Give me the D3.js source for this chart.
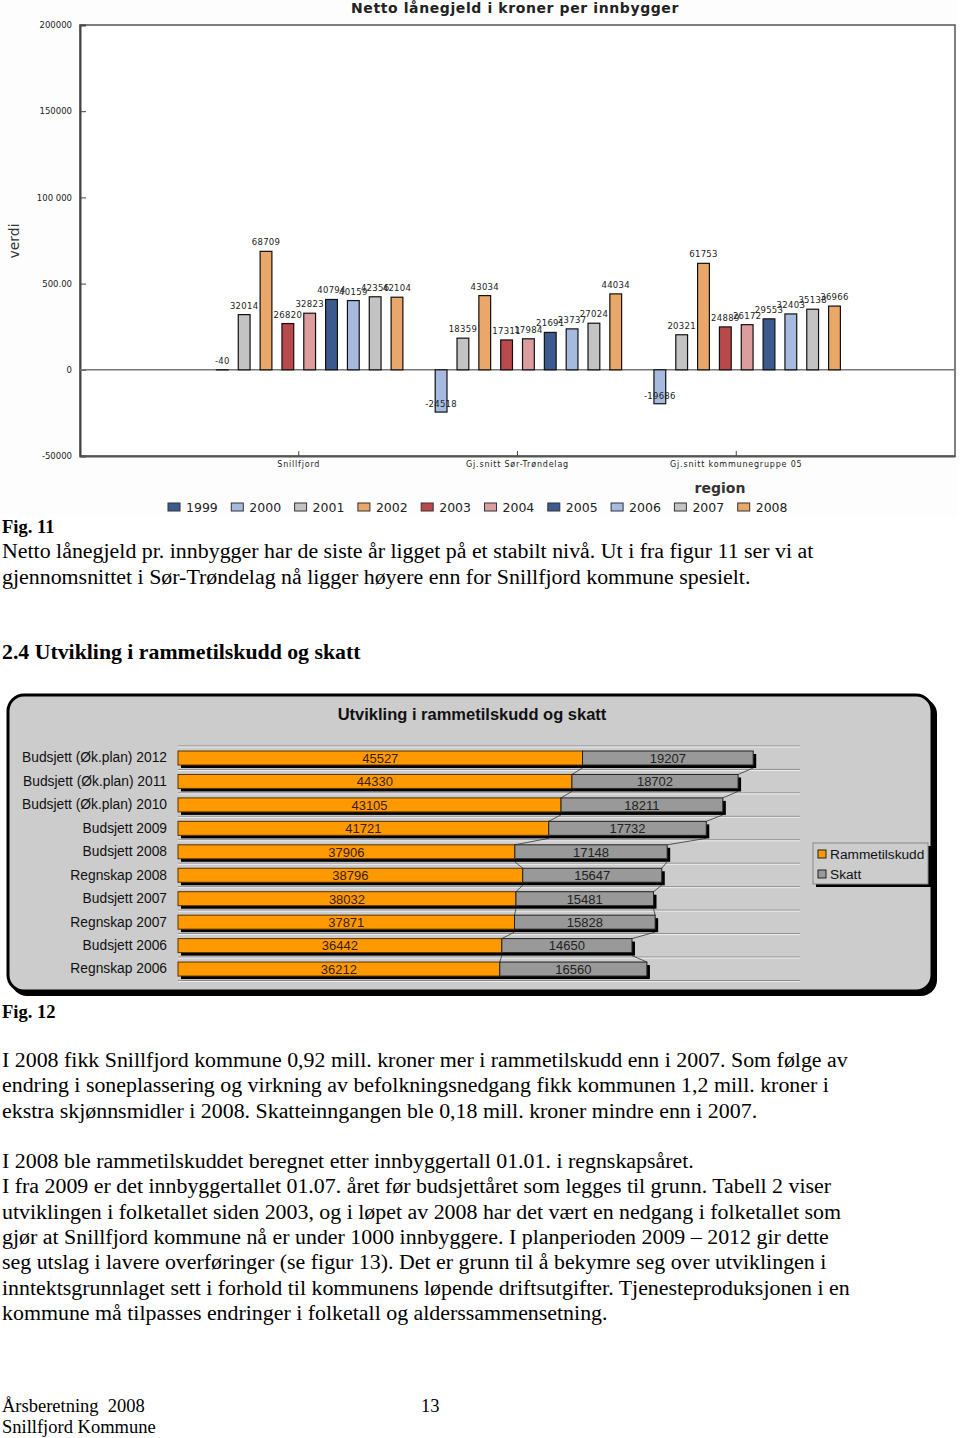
<!DOCTYPE html>
<html><head><meta charset="utf-8">
<script src="https://cdn.jsdelivr.net/npm/d3@7"></script>
<style>
body{margin:0;background:#fff;}
svg{display:block;}
text{white-space:pre;}
</style></head>
<body>
<script>
// ---------- Figure 11 data ----------
const regions = ["Snillfjord", "Gj.snitt Sør-Trøndelag", "Gj.snitt kommunegruppe 05"];
const years = ["1999","2000","2001","2002","2003","2004","2005","2006","2007","2008"];
const snillfjord    = [null, -40, 32014, 68709, 26820, 32823, 40794, 40159, 42356, 42104];
const sorTrondelag  = [null, -24518, 18359, 43034, 17311, 17984, 21691, 23737, 27024, 44034];
const kommunegruppe = [null, -19686, 20321, 61753, 24889, 26172, 29553, 32403, 35138, 36966];
const yearColors = ["#3d5a8e","#a6badf","#c3c3c3","#e9a86a","#b94a4c","#dc9d9e","#3d5a8e","#a6badf","#c3c3c3","#e9a86a"];
const yTicks = [-50000, 0, 50000, 100000, 150000, 200000];
const yTickLabels = ["-50000", "0", "500.00", "100 000", "150000", "200000"];

// ---------- Figure 12 data ----------
const budgetCategories = ["Budsjett (Øk.plan) 2012","Budsjett (Øk.plan) 2011","Budsjett (Øk.plan) 2010","Budsjett 2009","Budsjett 2008","Regnskap 2008","Budsjett 2007","Regnskap 2007","Budsjett 2006","Regnskap 2006"];
const rammetilskudd = [45527, 44330, 43105, 41721, 37906, 38796, 38032, 37871, 36442, 36212];
const skatt = [19207, 18702, 18211, 17732, 17148, 15647, 15481, 15828, 14650, 16560];
const seriesNames = ["Rammetilskudd", "Skatt"];

// ---------- Page text ----------
const para1 = ["Netto lånegjeld pr. innbygger har de siste år ligget på et stabilt nivå. Ut i fra figur 11 ser vi at",
  "gjennomsnittet i Sør-Trøndelag nå ligger høyere enn for Snillfjord kommune spesielt."];
const para2 = ["I 2008 fikk Snillfjord kommune 0,92 mill. kroner mer i rammetilskudd enn i 2007. Som følge av",
  "endring i soneplassering og virkning av befolkningsnedgang fikk kommunen 1,2 mill. kroner i",
  "ekstra skjønnsmidler i 2008. Skatteinngangen ble 0,18 mill. kroner mindre enn i 2007."];
const para3 = ["I 2008 ble rammetilskuddet beregnet etter innbyggertall 01.01. i regnskapsåret.",
  "I fra 2009 er det innbyggertallet 01.07. året før budsjettåret som legges til grunn. Tabell 2 viser",
  "utviklingen i folketallet siden 2003, og i løpet av 2008 har det vært en nedgang i folketallet som",
  "gjør at Snillfjord kommune nå er under 1000 innbyggere. I planperioden 2009 – 2012 gir dette",
  "seg utslag i lavere overføringer (se figur 13). Det er grunn til å bekymre seg over utviklingen i",
  "inntektsgrunnlaget sett i forhold til kommunens løpende driftsutgifter. Tjenesteproduksjonen i en",
  "kommune må tilpasses endringer i folketall og alderssammensetning."];

const svg = d3.select("body").append("svg").attr("width", 960).attr("height", 1438)
  .style("background", "#fff");

// =============== FIGURE 11 ===============
const f1 = svg.append("g");
const pf = "'DejaVu Sans', Verdana, sans-serif";
const L = 80, R = 955, T = 25, B = 456;
const y1 = d3.scaleLinear().domain([-50000, 200000]).range([B, T]);
const x1 = d3.scaleBand().domain(regions).range([L, R]).paddingInner(0).paddingOuter(0.5);
const xi = d3.scaleBand().domain(years).range([0, x1.bandwidth()]).paddingInner(0.46).paddingOuter(0.24);

f1.append("rect").attr("x", 0).attr("y", 0).attr("width", 958).attr("height", 516).attr("fill", "#fdfdfd");

f1.append("text").attr("x", 515).attr("y", 13).attr("text-anchor", "middle")
  .attr("font-family", pf).attr("font-size", 14).attr("font-weight", "bold").attr("letter-spacing", 0.6).attr("fill", "#222")
  .text("Netto lånegjeld i kroner per innbygger");

// frame
f1.append("rect").attr("x", L).attr("y", T).attr("width", R - L).attr("height", B - T)
  .attr("fill", "#fff").attr("stroke", "#555").attr("stroke-width", 1.5);

// y axis
const yAxis = d3.axisLeft(y1).tickValues(yTicks).tickSize(-6)
  .tickFormat((d) => yTickLabels[yTicks.indexOf(d)]);
const ya = f1.append("g").attr("transform", `translate(${L},0)`).call(yAxis);
ya.select(".domain").attr("stroke", "#444").attr("stroke-width", 2);
ya.selectAll(".tick line").attr("stroke", "#444");
ya.selectAll(".tick text").attr("x", -8).attr("font-family", pf).attr("font-size", 8.5).attr("fill", "#222");

// zero line
f1.append("line").attr("x1", L).attr("x2", R).attr("y1", y1(0)).attr("y2", y1(0))
  .attr("stroke", "#777").attr("stroke-width", 1.5);

// x axis
const xAxis = d3.axisBottom(x1).tickSize(-5).tickSizeOuter(0);
const xa = f1.append("g").attr("transform", `translate(0,${B})`).call(xAxis);
xa.select(".domain").attr("stroke", "#555").attr("stroke-width", 2);
xa.selectAll(".tick line").attr("stroke", "#444");
xa.selectAll(".tick text").attr("y", 5).attr("font-family", pf).attr("font-size", 8)
  .attr("letter-spacing", 0.8).attr("fill", "#222");

const regionValues = [snillfjord, sorTrondelag, kommunegruppe];
const barData = [];
regions.forEach((r, ri) => years.forEach((yr, yi) => {
  const v = regionValues[ri][yi];
  if (v !== null) barData.push({ r, yr, yi, v });
}));
const bars = f1.append("g");
bars.selectAll("rect").data(barData).join("rect")
  .attr("x", d => x1(d.r) + xi(d.yr))
  .attr("width", xi.bandwidth())
  .attr("y", d => y1(Math.max(0, d.v)))
  .attr("height", d => Math.abs(y1(d.v) - y1(0)))
  .attr("fill", d => yearColors[d.yi]).attr("stroke", "#111").attr("stroke-width", 1.2);
bars.selectAll("text").data(barData).join("text")
  .attr("x", d => x1(d.r) + xi(d.yr) + xi.bandwidth() / 2)
  .attr("y", d => (d.v < 0 && (y1(d.v) - y1(0)) > 15) ? y1(d.v) - 5 : y1(Math.max(0, d.v)) - 6)
  .attr("text-anchor", "middle").attr("font-family", pf).attr("font-size", 8.5)
  .attr("letter-spacing", 0.3).attr("fill", "#222").text(d => d.v);

// axis titles
f1.append("text").attr("transform", "translate(19,241) rotate(-90)").attr("text-anchor", "middle")
  .attr("font-family", pf).attr("font-size", 14).attr("fill", "#333").text("verdi");
f1.append("text").attr("x", 720).attr("y", 493).attr("text-anchor", "middle")
  .attr("font-family", pf).attr("font-size", 14).attr("font-weight", "bold").attr("fill", "#333").text("region");

// legend
const lg1 = f1.append("g").selectAll("g").data(years).join("g")
  .attr("transform", (d, i) => `translate(${168 + i * 63.3},503)`);
lg1.append("rect").attr("width", 12).attr("height", 8).attr("fill", (d, i) => yearColors[i]).attr("stroke", "#333").attr("stroke-width", 1);
lg1.append("text").attr("x", 18).attr("y", 9).attr("font-family", pf).attr("font-size", 12.5).attr("fill", "#222").text(d => d);

// =============== TEXT ===============
const serif = "'Liberation Serif', 'Times New Roman', serif";
function lines(arr, y0, step) {
  svg.append("g").selectAll("text").data(arr).join("text")
    .attr("x", 2).attr("y", (d, i) => y0 + i * step)
    .attr("font-family", serif).attr("font-size", 21.9).attr("fill", "#000").text(d => d);
}
svg.append("text").attr("x", 2).attr("y", 533).attr("font-family", serif).attr("font-size", 18.5).attr("font-weight", "bold").text("Fig. 11");
lines(para1, 558, 25.5);
svg.append("text").attr("x", 2).attr("y", 659).attr("font-family", serif).attr("font-size", 21.8).attr("font-weight", "bold").text("2.4 Utvikling i rammetilskudd og skatt");

// =============== FIGURE 12 ===============
const af = "'Liberation Sans', Arial, sans-serif";
const f2 = svg.append("g");
f2.append("rect").attr("x", 11).attr("y", 698).attr("width", 926).attr("height", 298).attr("rx", 16)
  .attr("fill", "#000");
f2.append("rect").attr("x", 8).attr("y", 695).attr("width", 924).attr("height", 296).attr("rx", 16)
  .attr("fill", "#cccccc").attr("stroke", "#000").attr("stroke-width", 3);
f2.append("text").attr("x", 472).attr("y", 720).attr("text-anchor", "middle")
  .attr("font-family", af).attr("font-size", 16.5).attr("font-weight", "bold").attr("fill", "#111")
  .text("Utvikling i rammetilskudd og skatt");

const x2 = d3.scaleLinear().domain([0, 70000]).range([178, 800]);
const y2 = d3.scaleBand().domain(budgetCategories).range([746, 980.5]);
const bh = 14, off = 5, sh = 3;

// gridlines
const gl = f2.append("g");
const gridYs = budgetCategories.map(c => y2(c)).concat([y2.range()[1]]);
gl.selectAll("line.g").data(gridYs).join("line").attr("class", "g")
  .attr("x1", 178).attr("x2", 800).attr("y1", d => d).attr("y2", d => d)
  .attr("stroke", "#8a8a8a").attr("stroke-width", 1);
gl.selectAll("line.w").data(gridYs).join("line").attr("class", "w")
  .attr("x1", 178).attr("x2", 800).attr("y1", d => d + 1).attr("y2", d => d + 1)
  .attr("stroke", "#eeeeee").attr("stroke-width", 1);

const rows = budgetCategories.map((c, i) => ({ c, r: rammetilskudd[i], s: skatt[i] }));

// series lines
const sl = f2.append("g");
for (let i = 0; i < rows.length - 1; i++) {
  const yb = y2(rows[i].c) + off + bh + sh, yt = y2(rows[i + 1].c) + off;
  [[rows[i].r, rows[i + 1].r], [rows[i].r + rows[i].s, rows[i + 1].r + rows[i + 1].s]].forEach(([a, b]) => {
    sl.append("line").attr("x1", x2(a)).attr("y1", yb).attr("x2", x2(b)).attr("y2", yt)
      .attr("stroke", "#333").attr("stroke-width", 0.8);
  });
}

// shadows
f2.append("g").selectAll("rect").data(rows).join("rect")
  .attr("x", d => x2(0) + sh).attr("y", d => y2(d.c) + off + sh)
  .attr("width", d => x2(d.r + d.s) - x2(0)).attr("height", bh).attr("fill", "#000");
// rammetilskudd
f2.append("g").selectAll("rect").data(rows).join("rect")
  .attr("x", x2(0)).attr("y", d => y2(d.c) + off)
  .attr("width", d => x2(d.r) - x2(0)).attr("height", bh)
  .attr("fill", "#ff9900").attr("stroke", "#5a3200").attr("stroke-width", 1);
// skatt
f2.append("g").selectAll("rect").data(rows).join("rect")
  .attr("x", d => x2(d.r)).attr("y", d => y2(d.c) + off)
  .attr("width", d => x2(d.r + d.s) - x2(d.r)).attr("height", bh)
  .attr("fill", "#999999").attr("stroke", "#222").attr("stroke-width", 1);
// labels
f2.append("g").selectAll("text").data(rows).join("text")
  .attr("x", d => (x2(0) + x2(d.r)) / 2).attr("y", d => y2(d.c) + off + bh / 2 + 4.8)
  .attr("text-anchor", "middle").attr("font-family", af).attr("font-size", 13).attr("fill", "#3a2000").text(d => d.r);
f2.append("g").selectAll("text").data(rows).join("text")
  .attr("x", d => (x2(d.r) + x2(d.r + d.s)) / 2).attr("y", d => y2(d.c) + off + bh / 2 + 4.8)
  .attr("text-anchor", "middle").attr("font-family", af).attr("font-size", 13).attr("fill", "#222").text(d => d.s);
// category axis
const ax2 = f2.append("g").attr("transform", "translate(176,0)").call(d3.axisLeft(y2).tickSize(0).tickPadding(9));
ax2.select(".domain").remove();
ax2.selectAll(".tick text").attr("font-family", af).attr("font-size", 13.8).attr("fill", "#111")
  .attr("dy", "0.32em").attr("transform", `translate(0,${off + bh / 2 - y2.bandwidth() / 2})`);

// legend
const lgx = 813, lgy = 843;
f2.append("rect").attr("x", lgx + 3).attr("y", lgy + 3).attr("width", 115).attr("height", 41).attr("fill", "#000");
f2.append("rect").attr("x", lgx).attr("y", lgy).attr("width", 115).attr("height", 41).attr("fill", "#cccccc").attr("stroke", "#888").attr("stroke-width", 1);
const lg2 = f2.append("g").selectAll("g").data(seriesNames).join("g")
  .attr("transform", (d, i) => `translate(${lgx + 5},${lgy + 7 + i * 20})`);
lg2.append("rect").attr("width", 8).attr("height", 8).attr("fill", (d, i) => i === 0 ? "#ff9900" : "#999999").attr("stroke", "#222");
lg2.append("text").attr("x", 12).attr("y", 8.8).attr("font-family", af).attr("font-size", 13.7).attr("fill", "#111").text(d => d);

svg.append("text").attr("x", 2).attr("y", 1018).attr("font-family", serif).attr("font-size", 18.5).attr("font-weight", "bold").text("Fig. 12");
lines(para2, 1067, 25.3);
lines(para3, 1168, 25.3);

// footer
svg.append("text").attr("x", 2).attr("y", 1412).attr("font-family", serif).attr("font-size", 18.5).text("Årsberetning  2008");
svg.append("text").attr("x", 421).attr("y", 1412).attr("font-family", serif).attr("font-size", 18.5).text("13");
svg.append("text").attr("x", 2).attr("y", 1433).attr("font-family", serif).attr("font-size", 18.5).text("Snillfjord Kommune");
</script>
</body></html>
